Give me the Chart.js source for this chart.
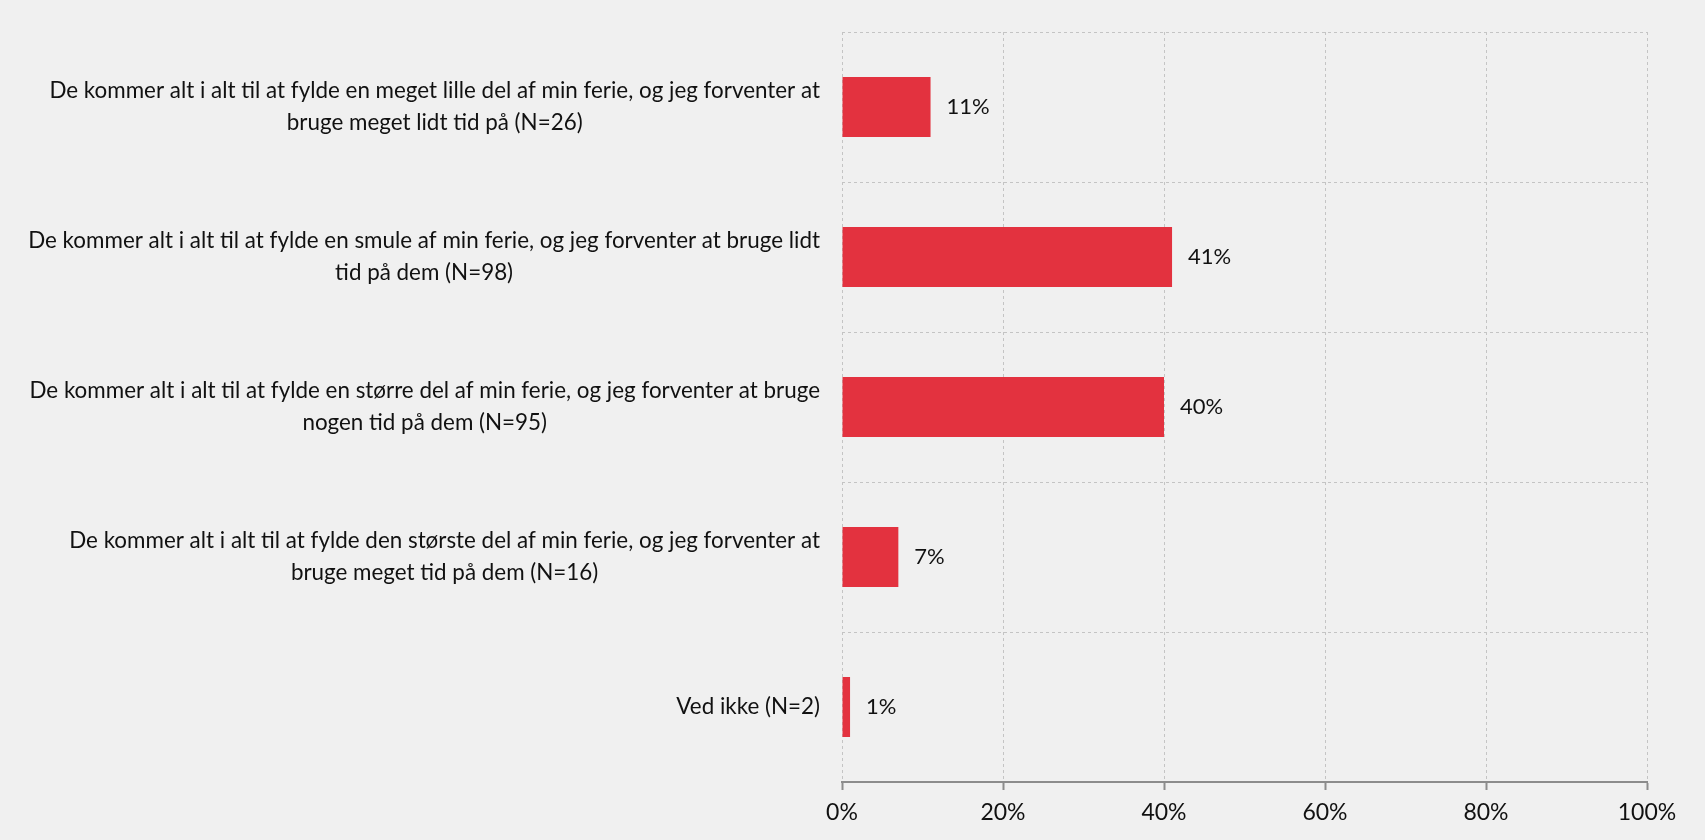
<!DOCTYPE html>
<html>
<head>
<meta charset="utf-8">
<script src="https://cdn.jsdelivr.net/npm/chart.js@4.4.1/dist/chart.umd.min.js"></script>
<style>
    html, body { margin: 0; padding: 0; background: #f0f0f0; }
    #wrap { width: 1705px; height: 840px; }
</style>
</head>
<body>
<div id="wrap"><canvas id="chart"></canvas></div>
<script>
var categories = [
    ["De kommer alt i alt til at fylde en meget lille del af min ferie, og jeg forventer at", "bruge meget lidt tid på (N=26)"],
    ["De kommer alt i alt til at fylde en smule af min ferie, og jeg forventer at bruge lidt", "tid på dem (N=98)"],
    ["De kommer alt i alt til at fylde en større del af min ferie, og jeg forventer at bruge", "nogen tid på dem (N=95)"],
    ["De kommer alt i alt til at fylde den største del af min ferie, og jeg forventer at", "bruge meget tid på dem (N=16)"],
    ["Ved ikke (N=2)"]
];
var values = [11, 41, 40, 7, 1];
var xTicks = [0, 20, 40, 60, 80, 100];

var fontFamily = "Lato, 'Liberation Sans', sans-serif";
var labelFont = "22.4px " + fontFamily;
var numberFont = "22px " + fontFamily;

// draws category labels: block right aligned, lines centred inside the block
var yLabelPlugin = {
    id: 'yLabels',
    afterDraw: function (chart) {
        var ctx = chart.ctx;
        var yScale = chart.scales.y;
        var right = yScale.right - 22;
        var lineH = 32;
        ctx.save();
        ctx.font = labelFont;
        ctx.fillStyle = '#111';
        ctx.textAlign = 'center';
        ctx.textBaseline = 'middle';
        categories.forEach(function (lines, i) {
            var widest = 0;
            lines.forEach(function (l) { widest = Math.max(widest, ctx.measureText(l).width); });
            var cx = right - widest / 2;
            var cy = yScale.getPixelForValue(i);
            var top = cy - (lines.length - 1) * lineH / 2;
            lines.forEach(function (l, j) {
                ctx.fillText(l, cx, top + j * lineH);
            });
        });
        ctx.restore();
    }
};

// value labels right of every bar
var valueLabelPlugin = {
    id: 'valueLabels',
    afterDatasetsDraw: function (chart) {
        var ctx = chart.ctx;
        var meta = chart.getDatasetMeta(0);
        ctx.save();
        ctx.font = numberFont;
        ctx.fillStyle = '#111';
        ctx.textAlign = 'left';
        ctx.textBaseline = 'middle';
        meta.data.forEach(function (bar, i) {
            ctx.fillText(values[i] + '%', bar.x + 16, bar.y);
        });
        ctx.restore();
    }
};

var chart = new Chart(document.getElementById('chart'), {
    type: 'bar',
    data: {
        labels: categories,
        datasets: [{
            data: values,
            backgroundColor: '#e3323f',
            borderWidth: 0,
            categoryPercentage: 1,
            barPercentage: 0.4
        }]
    },
    options: {
        indexAxis: 'y',
        responsive: true,
        maintainAspectRatio: false,
        animation: false,
        layout: {
            padding: { top: 32, right: 58, left: 0, bottom: 0 }
        },
        plugins: {
            legend: { display: false },
            tooltip: { enabled: false }
        },
        scales: {
            x: {
                min: 0,
                max: 100,
                afterBuildTicks: function (scale) {
                    scale.ticks = xTicks.map(function (v) { return { value: v }; });
                },
                afterFit: function (scale) { scale.height = 58; },
                ticks: {
                    padding: 9,
                    color: '#111',
                    font: { family: fontFamily, size: 23 },
                    callback: function (v) { return v + '%'; }
                },
                grid: {
                    color: '#c4c4c4',
                    lineWidth: 1,
                    tickLength: 8,
                    tickColor: '#8c8c8c',
                    tickWidth: 2
                },
                border: {
                    display: true,
                    color: '#8c8c8c',
                    width: 2,
                    dash: [3, 3]
                }
            },
            y: {
                afterFit: function (scale) { scale.width = 842; },
                ticks: { display: false },
                grid: {
                    color: '#c4c4c4',
                    lineWidth: 1,
                    drawTicks: false,
                    offset: true
                },
                border: {
                    display: false,
                    dash: [3, 3]
                }
            }
        }
    },
    plugins: [yLabelPlugin, valueLabelPlugin]
});
</script>
</body>
</html>
